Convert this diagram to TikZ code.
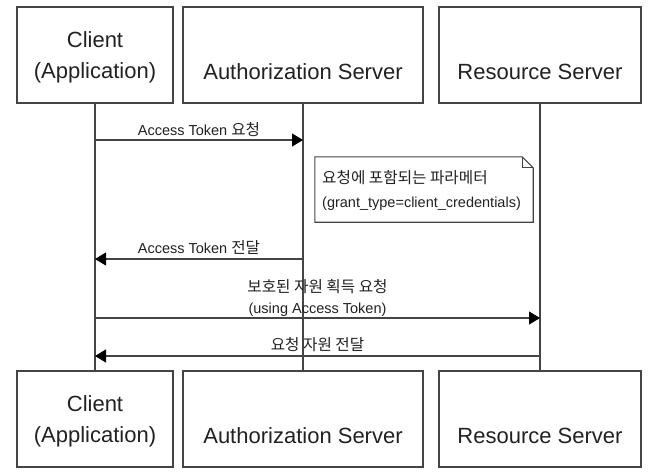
\documentclass[tikz,border=0pt]{standalone}
\usepackage{fontspec}
\setmainfont{Liberation Sans}
\newfontfamily\krfont[Scale=1.08]{Noto Sans CJK KR}
\newcommand\ko[1]{{\krfont #1}}
\usetikzlibrary{arrows.meta}
\definecolor{ln}{HTML}{444444}
\definecolor{tx}{HTML}{222222}
\begin{document}
\begin{tikzpicture}[x=1pt,y=-1pt,
  actor/.style={draw=ln, line width=1.1pt, rectangle, minimum height=96pt, inner sep=0pt},
  actortext/.style={text=tx, font=\fontsize{22}{31}\selectfont, align=center, inner sep=0pt},
  lifeline/.style={draw=ln, line width=1.1pt},
  msg/.style={draw=ln, line width=1.1pt, -{Triangle[length=11pt,width=13pt,color=black]}},
  msglabel/.style={text=tx, font=\fontsize{14.5}{17}\selectfont, inner sep=0pt, anchor=base},
  notebox/.style={inner sep=0pt, minimum width=218pt, minimum height=65pt},
  notetext/.style={text=tx, font=\fontsize{14.5}{17}\selectfont, inner sep=0pt, anchor=base west}
]
\useasboundingbox[fill=white] (0,0) rectangle (652,475);

% top actors
\node[actor, minimum width=156pt] (cT) at (95,55) {};
\node[actor, minimum width=240pt] (aT) at (303,55) {};
\node[actor, minimum width=202pt] (rT) at (540,55) {};
\node[actortext] (cTt) at (95,57.5) {Client\\(Application)};
\node[actortext] (aTt) at (303,72) {Authorization Server};
\node[actortext] (rTt) at (540,72) {Resource Server};

% bottom actors
\node[actor, minimum width=156pt] (cB) at (95,419) {};
\node[actor, minimum width=240pt] (aB) at (303,419) {};
\node[actor, minimum width=202pt] (rB) at (540,419) {};
\node[actortext] (cBt) at (95,421.5) {Client\\(Application)};
\node[actortext] (aBt) at (303,436) {Authorization Server};
\node[actortext] (rBt) at (540,436) {Resource Server};

% lifelines
\draw[lifeline] (cT.south) -- (cB.north);
\draw[lifeline] (aT.south) -- (aB.north);
\draw[lifeline] (rT.south) -- (rB.north);

% message end points on lifelines
\coordinate (c1) at (cT.south |- 0,140);
\coordinate (a1) at (aT.south |- 0,140);
\coordinate (c2) at (cT.south |- 0,259);
\coordinate (a2) at (aT.south |- 0,259);
\coordinate (c3) at (cT.south |- 0,318);
\coordinate (r3) at (rT.south |- 0,318);
\coordinate (c4) at (cT.south |- 0,356);
\coordinate (r4) at (rT.south |- 0,356);

\draw[msg] (c1) -- node[msglabel, yshift=5pt] (l1) {Access Token \ko{요청}} (a1);
\draw[msg] (a2) -- node[msglabel, yshift=6pt] (l2) {Access Token \ko{전달}} (c2);
\draw[msg] (c3) -- node[msglabel, yshift=5pt] (l3b) {(using Access Token)}
                   node[msglabel, yshift=26pt] (l3a) {\ko{보호된 자원 획득 요청}} (r3);
\draw[msg] (r4) -- node[msglabel, yshift=6pt] (l4) {\ko{요청 자원 전달}} (c4);

% note
\node[notebox] (note) at (424,189.5) {};
\draw[ln, line width=1.1pt, fill=white]
  (note.north west) -- ([xshift=-11pt]note.north east) -- ([yshift=-11pt]note.north east)
  -- (note.south east) -- (note.south west) -- cycle;
\draw[ln, line width=1pt]
  ([xshift=-11pt]note.north east) -- ([xshift=-11pt,yshift=-11pt]note.north east)
  -- ([yshift=-11pt]note.north east);
\node[notetext] (n1) at (322,183) {\ko{요청에 포함되는 파라메터}};
\node[notetext] (n2) at (322,207) {(grant\_type=client\_credentials)};
\end{tikzpicture}
\end{document}
